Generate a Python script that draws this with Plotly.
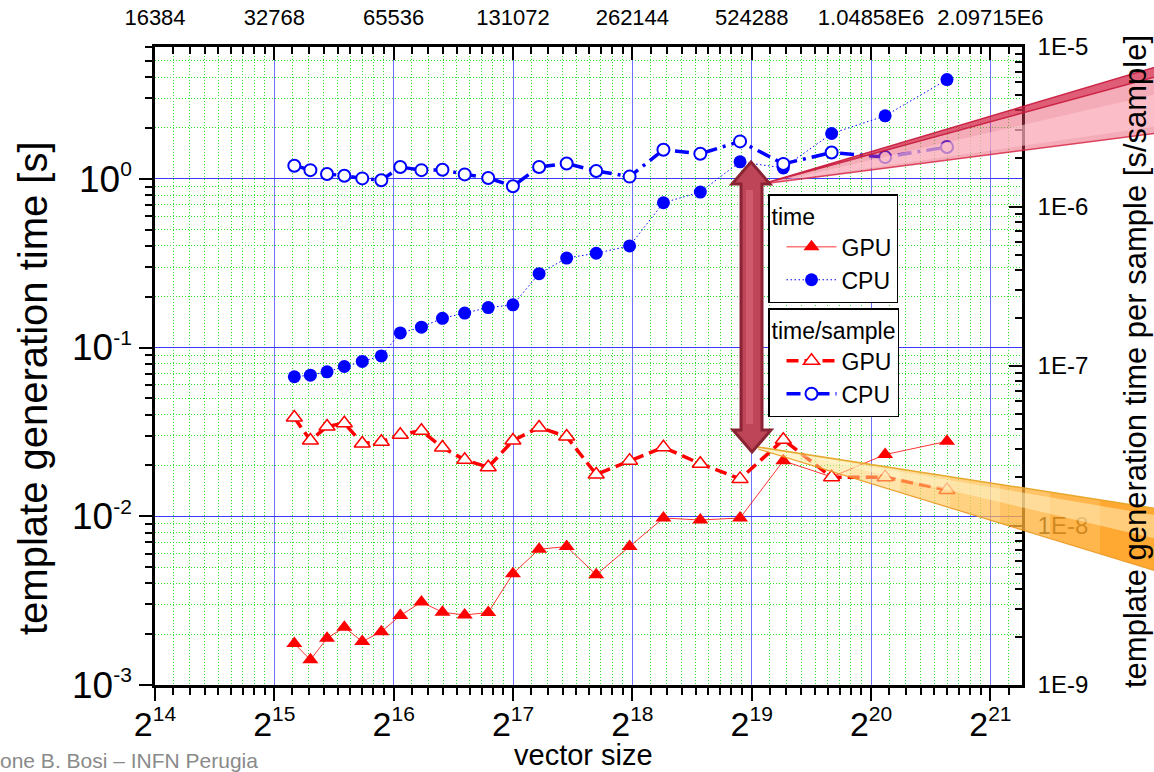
import math
import plotly.graph_objects as go

# ---------------- data ----------------
vector_size = [36800, 40400, 44500, 49200, 54600, 61000, 68100, 77000, 87000, 99000,
               113500, 131000, 152500, 179000, 212500, 258000, 314000, 389000, 490000,
               630000, 834000, 1138000, 1630000]

gpu_time = [1.76e-3, 1.41e-3, 1.89e-3, 2.20e-3, 1.81e-3, 2.07e-3, 2.58e-3, 3.10e-3,
            2.70e-3, 2.60e-3, 2.69e-3, 4.56e-3, 6.38e-3, 6.61e-3, 4.50e-3, 6.61e-3,
            9.77e-3, 9.50e-3, 9.77e-3, 0.0213, 0.0171, 0.0232, 0.0278]

cpu_time = [0.0671, 0.0686, 0.0718, 0.0772, 0.0827, 0.0892, 0.122, 0.132, 0.149, 0.160,
            0.1725, 0.179, 0.274, 0.339, 0.362, 0.400, 0.721, 0.834, 1.26, 1.16,
            1.855, 2.36, 3.87]

gpu_time_per_sample = [4.75e-8, 3.41e-8, 4.18e-8, 4.38e-8, 3.27e-8, 3.35e-8, 3.71e-8,
                       3.93e-8, 3.08e-8, 2.58e-8, 2.32e-8, 3.41e-8, 4.12e-8, 3.61e-8,
                       2.09e-8, 2.55e-8, 3.09e-8, 2.44e-8, 1.96e-8, 3.45e-8, 2.01e-8,
                       2.01e-8, 1.67e-8]

cpu_time_per_sample = [1.80e-6, 1.69e-6, 1.60e-6, 1.56e-6, 1.50e-6, 1.46e-6, 1.77e-6,
                       1.69e-6, 1.70e-6, 1.59e-6, 1.51e-6, 1.34e-6, 1.77e-6, 1.86e-6,
                       1.67e-6, 1.54e-6, 2.27e-6, 2.14e-6, 2.56e-6, 1.85e-6, 2.18e-6,
                       2.04e-6, 2.36e-6]

x_exponents = [14, 15, 16, 17, 18, 19, 20, 21]
bottom_tick_labels = ["2<sup><span style='font-size:21px'>%d</span></sup>" % e for e in x_exponents]
top_tick_labels = ["16384", "32768", "65536", "131072", "262144", "524288",
                   "1.04858E6", "2.09715E6"]
left_tick_values = [1e-3, 1e-2, 1e-1, 1.0]
left_tick_labels = ["10<sup><span style='font-size:21px'>-3</span></sup>",
                    "10<sup><span style='font-size:21px'>-2</span></sup>",
                    "10<sup><span style='font-size:21px'>-1</span></sup>",
                    "10<sup><span style='font-size:21px'>0</span></sup>"]
right_tick_values = [1e-9, 1e-8, 1e-7, 1e-6, 1e-5]
right_tick_labels = ["1E-9", "1E-8", "1E-7", "1E-6", "1E-5"]

# ---------------- layout geometry ----------------
W, H = 1154, 772
ML, MR, MT, MB = 155, 132, 47, 87
PW, PH = W - ML - MR, H - MT - MB
FONT = "Liberation Sans, Arial, Helvetica, sans-serif"


def px2x(px):
    return (px - ML) / PW


def px2y(py):
    return (H - MB - py) / PH


x_tick_values = [2 ** e for e in x_exponents]
x_minor = [2 ** e * (1 + j / 9) for e in range(14, 22) for j in range(1, 9)]
y_minor = [m * 10 ** d for d in range(-4, 1) for m in range(2, 10)]
y2_minor = [m * 10 ** d for d in range(-10, -5) for m in range(2, 10)]
x_range = [14 * math.log10(2), 21.265 * math.log10(2)]

GREEN = "#2FE02F"
fig = go.Figure()

fig.add_trace(go.Scatter(
    x=vector_size, y=gpu_time, name="GPU", mode="lines+markers",
    line=dict(color="#FF0000", width=0.8),
    marker=dict(symbol="triangle-up", size=14, color="#FF0000"),
    legend="legend"))
fig.add_trace(go.Scatter(
    x=vector_size, y=cpu_time, name="CPU", mode="lines+markers",
    line=dict(color="#0000FF", width=1, dash="1.5px,2.5px"),
    marker=dict(symbol="circle", size=13, color="#0000FF"),
    legend="legend"))
fig.add_trace(go.Scatter(
    x=vector_size, y=gpu_time_per_sample, name="GPU", mode="lines+markers", yaxis="y2",
    line=dict(color="#FF0000", width=3.5, dash="12px,6px"),
    marker=dict(symbol="triangle-up", size=14, color="white",
                line=dict(color="#FF0000", width=1.5)),
    legend="legend2"))
fig.add_trace(go.Scatter(
    x=vector_size, y=cpu_time_per_sample, name="CPU", mode="lines+markers", yaxis="y2",
    line=dict(color="#0000FF", width=3.5, dash="14px,6px,3px,6px"),
    marker=dict(symbol="circle", size=12, color="white",
                line=dict(color="#0000FF", width=2)),
    legend="legend2"))
# invisible companion so that the top (vector size) axis is built
fig.add_trace(go.Scatter(
    x=vector_size, y=cpu_time, xaxis="x2", yaxis="y", mode="markers",
    marker=dict(opacity=0), showlegend=False, hoverinfo="skip"))

axis_common = dict(showline=True, linewidth=2.5, linecolor="black", zeroline=False,
                   tickcolor="black", tickwidth=2, ticklen=13, automargin=False)

legend_common = dict(xanchor="left", yanchor="top", bgcolor="white",
                     bordercolor="black", borderwidth=1.5, font=dict(size=23),
                     tracegroupgap=0, itemwidth=50, indentation=12)

fig.update_layout(
    width=W, height=H, autosize=False,
    margin=dict(l=ML, r=MR, t=MT, b=MB, pad=0, autoexpand=False),
    paper_bgcolor="white", plot_bgcolor="white",
    font=dict(family=FONT, color="black"),
    showlegend=True,
    xaxis=dict(
        type="log", range=x_range, tickmode="array", tickvals=x_tick_values,
        ticktext=bottom_tick_labels, ticks="outside", tickfont=dict(size=34),
        ticklabelstandoff=-6,
        showgrid=True, gridcolor="#7070FF", gridwidth=1,
        minor=dict(tickmode="array", tickvals=x_minor, ticks="outside", ticklen=7,
                   tickwidth=1.5, tickcolor="black", showgrid=True,
                   gridcolor=GREEN, griddash="1px,2px", gridwidth=1),
        **axis_common),
    xaxis2=dict(
        type="log", range=x_range, overlaying="x", side="top", anchor="y",
        tickmode="array", tickvals=x_tick_values, ticktext=top_tick_labels,
        ticks="inside", tickfont=dict(size=22), showgrid=False, ticklabelstandoff=10,
        minor=dict(tickmode="array", tickvals=x_minor, ticks="inside", ticklen=7,
                   tickwidth=1.5, tickcolor="black", showgrid=False),
        **axis_common),
    yaxis=dict(
        type="log", range=[-3, 0.781], tickmode="array", tickvals=left_tick_values,
        ticktext=left_tick_labels, ticks="outside", tickfont=dict(size=37),
        showgrid=True, gridcolor="#3A3AFF", gridwidth=1,
        minor=dict(tickmode="array", tickvals=y_minor, ticks="outside", ticklen=7,
                   tickwidth=1.5, tickcolor="black", showgrid=True,
                   gridcolor=GREEN, griddash="1px,2px", gridwidth=1),
        **axis_common),
    yaxis2=dict(
        type="log", range=[-9, -5], overlaying="y", side="right", anchor="x",
        tickmode="array", tickvals=right_tick_values, ticktext=right_tick_labels,
        ticks="inside", tickfont=dict(size=24), showgrid=False, ticklabelstandoff=8,
        minor=dict(tickmode="array", tickvals=y2_minor, ticks="inside", ticklen=7,
                   tickwidth=1.5, tickcolor="black", showgrid=False),
        **axis_common),
    legend=dict(x=px2x(768), y=px2y(194),
                title=dict(text="time", font=dict(size=23)), **legend_common),
    legend2=dict(x=px2x(768), y=px2y(308),
                 title=dict(text="time/sample", font=dict(size=23)), **legend_common),
)

# ---------------- axis titles and credit ----------------
fig.add_annotation(text="template generation time [s]", xref="paper", yref="paper",
                   x=px2x(33), y=px2y(388), textangle=-90, showarrow=False,
                   xanchor="center", yanchor="middle", font=dict(size=40))
fig.add_annotation(text="template generation time per sample [s/sample]",
                   xref="paper", yref="paper", x=px2x(1135), y=px2y(362),
                   textangle=-90, showarrow=False, xanchor="center", yanchor="middle",
                   font=dict(size=31))
fig.add_annotation(text="vector size", xref="paper", yref="paper",
                   x=px2x(583), y=px2y(755), showarrow=False,
                   xanchor="center", yanchor="middle", font=dict(size=29))
fig.add_annotation(text="one B. Bosi \u2013 INFN Perugia", xref="paper", yref="paper",
                   x=px2x(-2), y=px2y(760), showarrow=False,
                   xanchor="left", yanchor="middle", font=dict(size=21, color="#8A8A8A"))


# ---------------- decorative slide graphics ----------------
def poly(points):
    return "M " + " L ".join("%.5f,%.5f" % (px2x(a), px2y(b)) for a, b in points) + " Z"


def lerp(a, b, t):
    return a + (b - a) * t


shapes = []

# pink cone (top)
pa = (762, 184)
p_up, p_lo = (1166, 64), (1166, 132)
shapes.append(dict(type="path", path=poly([pa, p_up, p_lo]), xref="paper", yref="paper",
                   fillcolor="rgba(232,70,100,0.45)", line=dict(width=0), layer="above"))
shapes.append(dict(type="path", path=poly([(780, 181), (1166, 92), (1166, 125)]),
                   xref="paper", yref="paper",
                   fillcolor="rgba(255,205,215,0.55)", line=dict(width=0), layer="above"))
shapes.append(dict(type="path", path=poly([pa, p_up, (1166, 74)]), xref="paper",
                   yref="paper", fillcolor="rgba(205,30,65,0.55)",
                   line=dict(color="rgba(200,25,60,0.9)", width=1.5), layer="above"))
shapes.append(dict(type="line", x0=px2x(pa[0]), y0=px2y(pa[1]), x1=px2x(p_lo[0]),
                   y1=px2y(p_lo[1]), xref="paper", yref="paper",
                   line=dict(color="rgba(215,40,70,0.85)", width=1.5), layer="above"))

# orange cone (bottom), piecewise gradient
oa = (758, 447)
o_up, o_lo = (1166, 510), (1166, 574)
xs = [758, 800, 850, 900, 950, 1000, 1050, 1100, 1166]
c0, c1 = (255, 240, 160, 0.45), (255, 150, 10, 0.9)


def y_on(p0, p1, x):
    return p0[1] + (p1[1] - p0[1]) * (x - p0[0]) / (p1[0] - p0[0])


for i in range(len(xs) - 1):
    t = (i + 0.5) / (len(xs) - 1)
    col = "rgba(%d,%d,%d,%.2f)" % (lerp(c0[0], c1[0], t), lerp(c0[1], c1[1], t),
                                   lerp(c0[2], c1[2], t), lerp(c0[3], c1[3], t))
    xa, xb = xs[i], xs[i + 1]
    pts = [(xa, y_on(oa, o_up, xa)), (xb, y_on(oa, o_up, xb)),
           (xb, y_on((oa[0], oa[1] + 2), o_lo, xb)), (xa, y_on((oa[0], oa[1] + 2), o_lo, xa))]
    shapes.append(dict(type="path", path=poly(pts), xref="paper", yref="paper",
                       fillcolor=col, line=dict(width=0), layer="above"))
shapes.append(dict(type="path", path=poly([(790, 453), (1166, 517), (1166, 541)]),
                   xref="paper", yref="paper", fillcolor="rgba(255,250,215,0.45)",
                   line=dict(width=0), layer="above"))
shapes.append(dict(type="line", x0=px2x(oa[0]), y0=px2y(oa[1]), x1=px2x(o_up[0]),
                   y1=px2y(o_up[1]), xref="paper", yref="paper",
                   line=dict(color="rgba(230,165,40,0.95)", width=1.5), layer="above"))
shapes.append(dict(type="line", x0=px2x(oa[0]), y0=px2y(oa[1] + 2), x1=px2x(o_lo[0]),
                   y1=px2y(o_lo[1]), xref="paper", yref="paper",
                   line=dict(color="rgba(235,150,30,0.9)", width=1.2), layer="above"))

# double-headed arrow
arrow = [(751, 162), (770, 184), (762, 184), (762, 430), (771, 430), (752, 452),
         (733, 430), (741, 430), (741, 184), (732, 184)]
shapes.append(dict(type="path", path=poly(arrow), xref="paper", yref="paper",
                   fillcolor="#BE4557", line=dict(color="#8A2434", width=3), layer="above"))
shapes.append(dict(type="path", path=poly([(746, 190), (753, 190), (753, 424), (746, 424)]),
                   xref="paper", yref="paper", fillcolor="rgba(214,100,115,0.7)",
                   line=dict(width=0), layer="above"))

fig.update_layout(shapes=shapes)

fig.write_html("out.html")
